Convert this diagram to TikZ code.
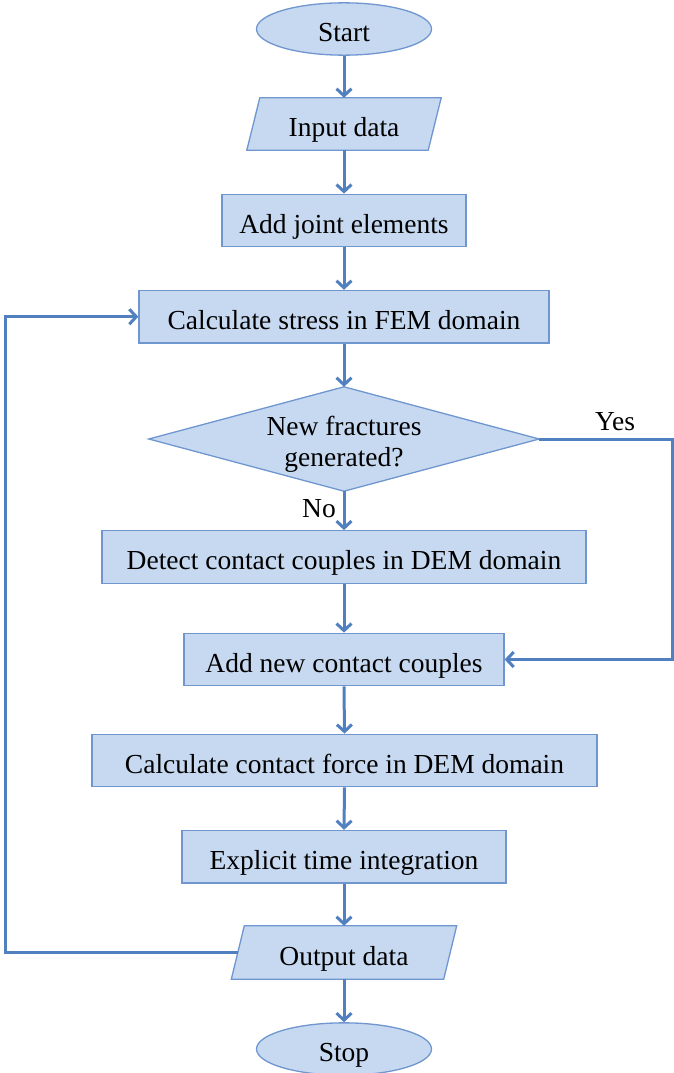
\documentclass[tikz,border=0pt]{standalone}
\usepackage{fontspec}
\setmainfont{Liberation Serif}
\usetikzlibrary{shapes.geometric,arrows.meta,backgrounds,calc}
\definecolor{boxfill}{HTML}{C6D9F0}
\definecolor{boxline}{HTML}{7096CF}
\definecolor{arrowc}{HTML}{5080BF}
\begin{document}
\begin{tikzpicture}[x=1pt,y=-1pt,
  every node/.style={font=\fontsize{27.5}{32}\selectfont, inner sep=0pt},
  txt/.style={text height=31pt, text depth=6pt},
  procbox/.style={txt, rectangle, draw=boxline, fill=boxfill, line width=1.3pt, minimum height=52.5pt},
  terminal/.style={txt, ellipse, draw=boxline, fill=boxfill, line width=1.3pt, minimum width=175pt, minimum height=52pt},
  anchorbox/.style={txt, rectangle, minimum height=52.5pt},
  shapefill/.style={draw=boxline, fill=boxfill, line width=1.3pt, line join=miter},
  conn/.style={draw=arrowc, line width=3pt, -{Straight Barb[length=7pt,width=15pt]}},
  lbl/.style={anchor=base}]
\useasboundingbox (0,0) rectangle (673,1073);
\node[terminal] (start) at (344,29) {Start};
\node[anchorbox, minimum width=181pt, minimum height=52pt] (in) at (344,124) {Input data};
\node[procbox, minimum width=244pt] (joint) at (344,220.5) {Add joint elements};
\node[procbox, minimum width=410pt] (stress) at (344,316.7) {Calculate stress in FEM domain};
\node[rectangle, minimum width=390pt, minimum height=104pt] (dec) at (344,439) {};
\node[lbl] (decA) at (344,435.5) {New fractures};
\node[lbl] (decB) at (344,466.5) {generated?};
\node[procbox, minimum width=484pt] (detect) at (344,557) {Detect contact couples in DEM domain};
\node[procbox, minimum width=320pt] (addnew) at (344,659.5) {Add new contact couples};
\node[procbox, minimum width=505pt] (force) at (344.5,760.5) {Calculate contact force in DEM domain};
\node[procbox, minimum width=324pt] (expl) at (344,856.7) {Explicit time integration};
\node[anchorbox, minimum width=212pt, minimum height=53pt] (out) at (344,952.5) {Output data};
\node[terminal] (stop) at (344,1049) {Stop};
\begin{scope}[on background layer]
\path[shapefill] ([xshift=6.5pt]in.north west) -- ([xshift=6.5pt]in.north east) -- ([xshift=-6.5pt]in.south east) -- ([xshift=-6.5pt]in.south west) -- cycle;
\path[shapefill] ([xshift=6.5pt]out.north west) -- ([xshift=6.5pt]out.north east) -- ([xshift=-6.5pt]out.south east) -- ([xshift=-6.5pt]out.south west) -- cycle;
\path[shapefill] (dec.north) -- (dec.east) -- (dec.south) -- (dec.west) -- cycle;
\end{scope}
\node[lbl] (yes) at (615,430) {Yes};
\node[lbl] (no) at (319,517) {No};
\coordinate (lx) at (5,0);
\coordinate (rx) at (672,0);
\draw[conn] (start.south) -- (in.north);
\draw[conn] (in.south) -- (joint.north);
\draw[conn] (joint.south) -- (stress.north);
\draw[conn] (stress.south) -- (dec.north);
\draw[conn] (dec.south) -- (detect.north);
\draw[conn] (detect.south) -- (addnew.north);
\draw[conn] (addnew.south) -- (force.north);
\draw[conn] (force.south) -- (expl.north);
\draw[conn] (expl.south) -- (out.north);
\draw[conn] (out.south) -- (stop.north);
\draw[conn] (out.west) -- (out.west -| lx) |- (stress.west);
\draw[conn] (dec.east) -- (dec.east -| rx) |- (addnew.east);
\end{tikzpicture}
\end{document}
